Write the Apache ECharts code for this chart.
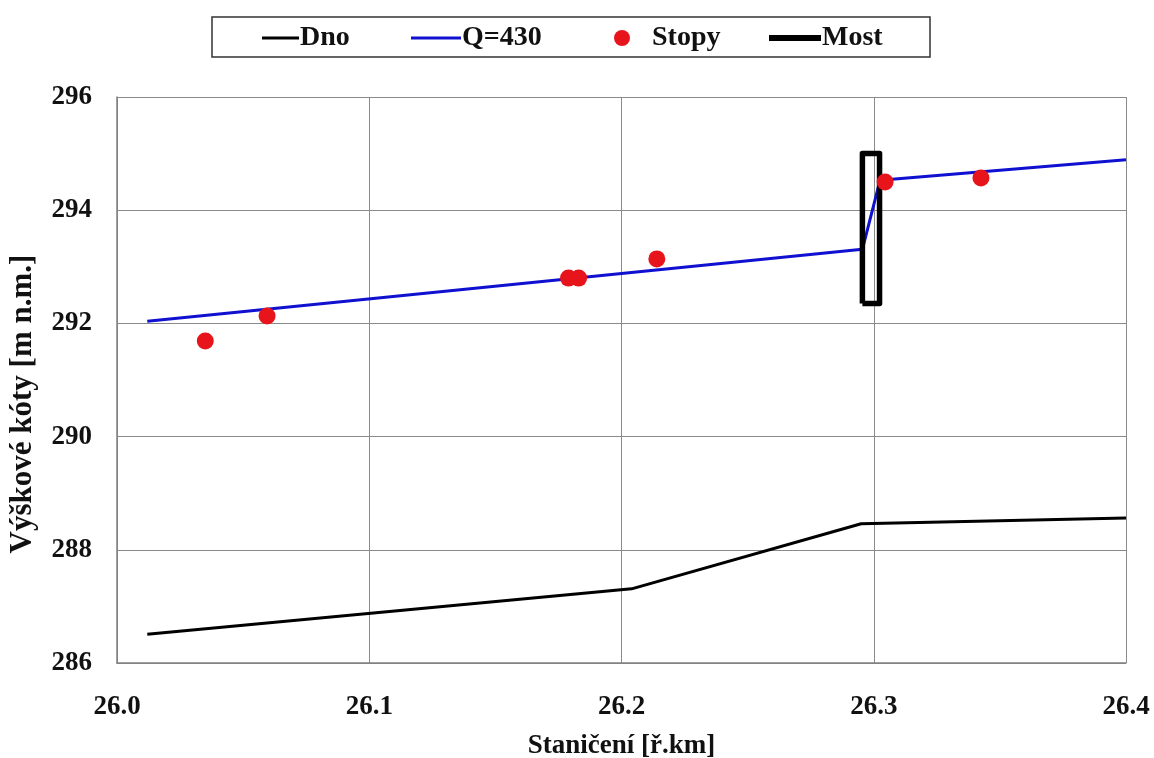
<!DOCTYPE html>
<html><head><meta charset="utf-8">
<script src="https://cdn.jsdelivr.net/npm/echarts@6/dist/echarts.min.js"></script>
<style>html,body{margin:0;padding:0;background:#fff}#c{width:1154px;height:758px}</style>
</head><body><div id="c"></div>
<script>
const dnoX = [26.012, 26.204, 26.295, 26.400];
const dnoY = [286.51, 287.31, 288.46, 288.56];
const qX = [26.012, 26.2955, 26.3025, 26.400];
const qY = [292.04, 293.31, 294.53, 294.89];
const stopyX = [26.035, 26.0595, 26.179, 26.183, 26.214, 26.3045, 26.3425];
const stopyY = [291.69, 292.13, 292.80, 292.80, 293.14, 294.50, 294.57];
const mostX = [26.2955, 26.2955, 26.3023, 26.3023, 26.2955];
const mostY = [292.35, 295.00, 295.00, 292.35, 292.35];
const xTicks = ['26.0','26.1','26.2','26.3','26.4'];

const zip = (a, b) => a.map((v, i) => [v, b[i]]);
const F = 'Liberation Serif';
const FS = 27;
const legText = {fontFamily: F, fontWeight: 'bold', fontSize: 28, color: '#111'};
function leg(name, left, w, h, icon, gap) {
  return {
    data: [name], left: left, top: 24, orient: 'horizontal', padding: 0,
    itemWidth: w, itemHeight: h, icon: icon, selectedMode: false,
    textStyle: Object.assign({}, legText, {padding: [0, 0, 0, gap]})
  };
}
const chart = echarts.init(document.getElementById('c'));
chart.setOption({
  animation: false,
  textStyle: {fontFamily: F},
  grid: {left: 117, right: 28, top: 97, bottom: 95, outerBoundsMode: 'none', containLabel: false},
  graphic: [{type: 'rect', shape: {x: 212, y: 17, width: 718, height: 40},
    style: {fill: 'none', stroke: '#333', lineWidth: 1.5}, z: 10}],
  legend: [
    leg('Dno', 262, 37, 3, 'rect', -4),
    leg('Q=430', 411, 50, 3, 'rect', -4),
    leg('Stopy', 614, 16, 16, 'circle', 17),
    leg('Most', 769, 52, 6, 'rect', -4)
  ],
  xAxis: {
    type: 'value', min: 26.0, max: 26.4, interval: 0.1,
    name: 'Staničení [ř.km]', nameLocation: 'middle', nameGap: 70,
    nameTextStyle: {fontFamily: F, fontWeight: 'bold', fontSize: FS, color: '#111'},
    axisLine: {show: true, lineStyle: {color: '#808080', width: 1.5}},
    axisTick: {show: false},
    axisLabel: {margin: 31, fontFamily: F, fontWeight: 'bold', fontSize: FS, color: '#111',
      formatter: (v) => { const i = Math.round((v - 26.0) / 0.1); return xTicks[i] ?? ''; }},
    splitLine: {show: true, lineStyle: {color: '#8a8a8a', width: 1}}
  },
  yAxis: {
    type: 'value', min: 286, max: 296, interval: 2,
    name: 'Výškové kóty [m n.m.]', nameLocation: 'middle', nameGap: 79,
    nameTextStyle: {fontFamily: F, fontWeight: 'bold', fontSize: 31, color: '#111', padding: [0, 48, 0, 0]},
    axisLine: {show: true, lineStyle: {color: '#808080', width: 1.5}},
    axisTick: {show: false},
    axisLabel: {margin: 25, fontFamily: F, fontWeight: 'bold', fontSize: FS, color: '#111'},
    splitLine: {show: true, lineStyle: {color: '#8a8a8a', width: 1}}
  },
  series: [
    {name: 'Dno', type: 'line', data: zip(dnoX, dnoY), showSymbol: false, symbol: 'none',
      lineStyle: {color: '#000', width: 3}, itemStyle: {color: '#000'}, z: 3},
    {name: 'Q=430', type: 'line', data: zip(qX, qY), showSymbol: false, symbol: 'none',
      lineStyle: {color: '#1010d0', width: 3}, itemStyle: {color: '#1010d0'}, z: 3},
    {name: 'Most', type: 'line', data: zip(mostX, mostY), showSymbol: false, symbol: 'none',
      lineStyle: {color: '#000', width: 5.5, join: 'round'}, itemStyle: {color: '#000'}, z: 4},
    {name: 'Stopy', type: 'scatter', data: zip(stopyX, stopyY), symbolSize: 17,
      itemStyle: {color: '#e8141c', opacity: 1}, z: 5}
  ]
});
</script></body></html>
